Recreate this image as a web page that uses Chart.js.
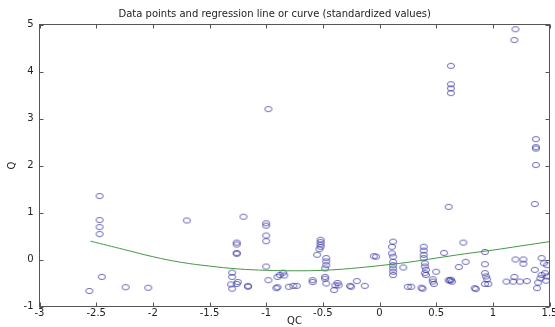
<!DOCTYPE html>
<html>
<head>
<meta charset="utf-8">
<script src="https://cdn.jsdelivr.net/npm/chart.js@4.4.1/dist/chart.umd.min.js"></script>
<style>
  html, body { margin: 0; padding: 0; background: #fff; }
</style>
</head>
<body>
<canvas id="chart" width="555" height="327"></canvas>
<script>
// standardized QC (x) and Q (y) values
const qcValues = [
  -2.47, -2.47, -2.47, -2.47, -2.45, -2.56, -2.24, -2.04,
  -1.70, -1.20,
  -1.26, -1.26, -1.26, -1.26,
  -1.30, -1.30, -1.31, -1.30, -1.25, -1.26, -1.16, -1.16,
  -1.00, -1.00, -1.00, -1.00, -1.00, -0.98,
  -0.98, -0.90, -0.88, -0.85, -0.91, -0.90, -0.84, -0.80, -0.76, -0.73,
  -0.59, -0.59,
  -0.52, -0.52, -0.52, -0.52, -0.53, -0.55,
  -0.47, -0.47, -0.47, -0.48, -0.48, -0.48, -0.47,
  -0.37, -0.36, -0.40, -0.39, -0.26, -0.25, -0.20, -0.13, -0.03, -0.05,
  0.12, 0.11, 0.11, 0.12, 0.12, 0.12, 0.12, 0.12, 0.12,
  0.21, 0.25, 0.28,
  0.39, 0.39, 0.39, 0.39, 0.40, 0.40, 0.41, 0.40, 0.41, 0.37, 0.38, 0.47, 0.48, 0.47, 0.50,
  0.57, 0.61, 0.63, 0.63, 0.63, 0.63,
  0.62, 0.63, 0.64, 0.61,
  0.70, 0.74, 0.76, 0.84, 0.85,
  0.93, 0.93, 0.93, 0.94, 0.95, 0.96, 0.93,
  1.12, 1.18, 1.24, 1.30, 1.19, 1.20, 1.27, 1.27,
  1.20, 1.19, 1.38, 1.38, 1.38, 1.38, 1.37,
  1.43, 1.37, 1.45, 1.48, 1.43, 1.46, 1.48, 1.40, 1.47, 1.42, 1.39
];
const qValues = [
  1.35, 0.84, 0.69, 0.54, -0.37, -0.67, -0.59, -0.60,
  0.83, 0.91,
  0.36, 0.32, 0.14, 0.12,
  -0.28, -0.37, -0.53, -0.62, -0.48, -0.52, -0.56, -0.58,
  0.77, 0.72, 0.51, 0.39, -0.15, 3.20,
  -0.44, -0.37, -0.33, -0.28, -0.61, -0.59, -0.34, -0.58, -0.56, -0.56,
  -0.44, -0.48,
  0.42, 0.37, 0.32, 0.27, 0.22, 0.10,
  0.03, -0.04, -0.12, -0.19, -0.37, -0.41, -0.51,
  -0.50, -0.55, -0.65, -0.55, -0.56, -0.58, -0.46, -0.56, 0.06, 0.07,
  0.38, 0.27, 0.13, 0.06, -0.05, -0.12, -0.19, -0.26, -0.33,
  -0.17, -0.58, -0.58,
  0.27, 0.19, 0.10, 0.03, -0.08, -0.15, -0.22, -0.29, -0.33, -0.60, -0.62, -0.47, -0.52, -0.42, -0.26,
  0.14, 1.12, 4.12, 3.73, 3.64, 3.54,
  -0.45, -0.43, -0.47, -0.44,
  -0.16, 0.36, -0.05, -0.61, -0.63,
  0.16, -0.10, -0.29, -0.36, -0.42, -0.52, -0.52,
  -0.47, -0.47, -0.47, -0.46, -0.37, 0.00, 0.00, -0.09,
  4.90, 4.67, 2.56, 2.39, 2.36, 2.01, 1.18,
  0.03, -0.22, -0.08, -0.12, -0.33, -0.29, -0.36, -0.49, -0.45, -0.40, -0.61
];

// fitted regression curve, read at intervals along the green line
const curveQc = [-2.55, -2.25, -2.0, -1.75, -1.5, -1.25, -1.0, -0.75, -0.5, -0.25, 0, 0.25, 0.5, 0.75, 1.0, 1.25, 1.5];
const curveQ = [0.39, 0.21, 0.06, -0.06, -0.14, -0.20, -0.23, -0.24, -0.23, -0.19, -0.13, -0.06, 0.03, 0.12, 0.20, 0.29, 0.38];

const xTicks = [-3, -2.5, -2, -1.5, -1, -0.5, 0, 0.5, 1, 1.5];
const yTicks = [-1, 0, 1, 2, 3, 4, 5];

const axisColor = "#555";
const textColor = "#222";
const fontFamily = "'DejaVu Sans', 'Liberation Sans', Arial, sans-serif";

// small open ellipse used as the marker (the source image is slightly stretched)
const marker = document.createElement("canvas");
marker.width = 10;
marker.height = 8;
const mctx = marker.getContext("2d");
mctx.strokeStyle = "rgba(45,45,155,0.7)";
mctx.lineWidth = 1;
mctx.beginPath();
mctx.ellipse(5, 4, 3.6, 2.6, 0, 0, Math.PI * 2);
mctx.stroke();

// matlab style box with ticks pointing inwards
const boxTicks = {
  id: "boxTicks",
  afterDraw(chart) {
    const { ctx, chartArea: a, scales } = chart;
    ctx.save();
    ctx.strokeStyle = axisColor;
    ctx.lineWidth = 1;
    ctx.strokeRect(a.left, a.top, a.right - a.left, a.bottom - a.top);
    ctx.beginPath();
    xTicks.forEach((v) => {
      const x = Math.round(scales.x.getPixelForValue(v)) + 0.5;
      ctx.moveTo(x, a.bottom);
      ctx.lineTo(x, a.bottom - 4);
      ctx.moveTo(x, a.top);
      ctx.lineTo(x, a.top + 4);
    });
    yTicks.forEach((v) => {
      const y = Math.round(scales.y.getPixelForValue(v)) + 0.5;
      ctx.moveTo(a.left, y);
      ctx.lineTo(a.left + 4, y);
      ctx.moveTo(a.right, y);
      ctx.lineTo(a.right - 4, y);
    });
    ctx.stroke();
    ctx.restore();
  },
};

const points = qcValues.map((x, i) => ({ x: x, y: qValues[i] }));
const curve = curveQc.map((x, i) => ({ x: x, y: curveQ[i] }));

new Chart(document.getElementById("chart"), {
  type: "scatter",
  data: {
    datasets: [
      {
        label: "fit",
        data: curve,
        showLine: true,
        borderColor: "rgb(70,150,70)",
        borderWidth: 1,
        pointRadius: 0,
        tension: 0.4,
        order: 0,
      },
      {
        label: "data",
        data: points,
        pointStyle: marker,
        pointRadius: 4,
        order: 1,
      },
    ],
  },
  options: {
    responsive: false,
    animation: false,
    layout: { padding: { left: 0, right: 5.5, top: 0, bottom: 0 } },
    plugins: {
      legend: { display: false },
      tooltip: { enabled: false },
      title: {
        display: true,
        text: "Data points and regression line or curve (standardized values)",
        color: textColor,
        font: { family: fontFamily, size: 10, weight: "normal", lineHeight: 1.2 },
        padding: { top: 8, bottom: 4.5 },
      },
    },
    scales: {
      x: {
        type: "linear",
        min: -3,
        max: 1.5,
        grid: { display: false, drawTicks: false },
        border: { display: false },
        afterBuildTicks: (scale) => {
          scale.ticks = xTicks.map((v) => ({ value: v }));
        },
        afterFit: (scale) => {
          scale.height = 20.5;
          scale.paddingLeft = 0;
          scale.paddingRight = 0;
        },
        ticks: {
          color: textColor,
          padding: 1,
          maxRotation: 0,
          autoSkip: false,
          font: { family: fontFamily, size: 10 },
          callback: (v) => String(v),
        },
        title: {
          display: true,
          text: "QC",
          color: textColor,
          font: { family: fontFamily, size: 10 },
          padding: { top: 0, bottom: 0 },
        },
      },
      y: {
        type: "linear",
        min: -1,
        max: 5,
        grid: { display: false, drawTicks: false },
        border: { display: false },
        afterBuildTicks: (scale) => {
          scale.ticks = yTicks.map((v) => ({ value: v }));
        },
        afterFit: (scale) => {
          scale.width = 39.5;
          scale.paddingTop = 0;
          scale.paddingBottom = 0;
        },
        ticks: {
          color: textColor,
          padding: 6,
          font: { family: fontFamily, size: 10 },
          callback: (v) => String(v),
        },
        title: {
          display: true,
          text: "Q",
          color: textColor,
          font: { family: fontFamily, size: 10 },
          padding: { top: 6, bottom: 0 },
        },
      },
    },
  },
  plugins: [boxTicks],
});
</script>
</body>
</html>
